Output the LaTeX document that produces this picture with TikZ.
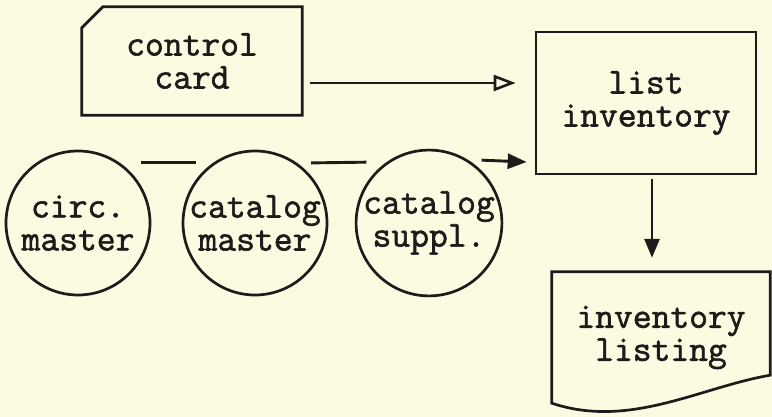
\documentclass[tikz,border=0pt]{standalone}
\usepackage{fontspec}
\newfontfamily\typeface{Latin Modern Mono}[BoldFont=Latin Modern Mono,BoldFeatures={FakeBold=1.6}]
\usetikzlibrary{arrows.meta,positioning,calc}
\definecolor{paper}{RGB}{251,251,226}
\definecolor{ink}{RGB}{32,26,26}

\begin{document}
\begin{tikzpicture}[
  x=1pt,y=1pt,
  txt/.style={font=\typeface\bfseries\fontsize{36.5}{33}\selectfont,align=center,text=ink,inner sep=0pt},
  box/.style={txt,rectangle,draw=ink,line width=2.7pt},
  file/.style={txt,circle,draw=ink,line width=2.7pt,minimum size=144pt},
  outline/.style={draw=ink,line width=2.7pt},
  link/.style={draw=ink,line width=2.9pt},
  arrow/.style={link,-{Triangle[length=19pt,width=15pt]}},
  openarrow/.style={link,-{Triangle[open,length=22pt,width=16pt,line width=2.6pt]}}
]
\fill[paper] (0,0) rectangle (772,417);
\useasboundingbox (0,0) rectangle (772,417);

% punched card with the clipped corner
\node[txt,minimum width=220pt,minimum height=108pt] (card) at (192,356) {control\\card};
\draw[outline] ($(card.north west)+(0,-21)$) -- ($(card.north west)+(21,0)$)
  -- (card.north east) -- (card.south east) -- (card.south west) -- cycle;

\node[box,minimum width=220pt,minimum height=142pt] (list) at (646,314) {list\\inventory};

% tape files
\node[file] (circ) at (78,194) {circ.\\master};
\node[file] (catm) at (255,194) {catalog\\master};
\node[file] (cats) at (429,194) {catalog\\suppl.};

% printed report
\node[txt,minimum width=218pt,minimum height=131pt] (listing) at (661,79.5) {inventory\\listing};
\draw[outline] (listing.south west) -- (listing.north west) -- (listing.north east)
  -- ($(listing.south east)+(0,28)$)
  .. controls ($(listing.south east)+(-70,16)$) and ($(listing.south west)+(78,-26)$) .. (listing.south west)
  -- cycle;

\draw[openarrow] ($(card.east)+(8,-22)$) -- ($(list.west)+(-19,20)$);
\draw[link] ($(circ.55)+(21,0)$) -- ($(catm.125)+(-17,0)$);
\draw[link] ($(catm.55)+(14,0)$) -- ($(cats.125)+(-20,0)$);
\draw[arrow] ($(cats.55)+(10,2)$) -- ($(list.west)+(-8,-59)$);
\draw[arrow] ($(list.south)+(6,-4)$) -- ($(listing.north)+(-9,14)$);
\end{tikzpicture}
\end{document}
